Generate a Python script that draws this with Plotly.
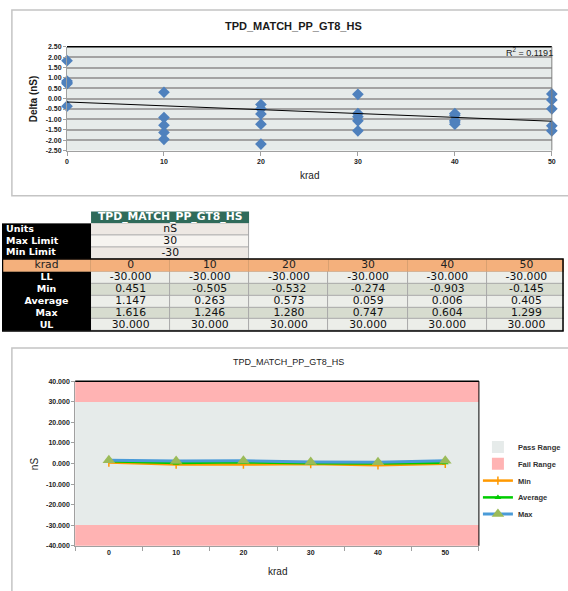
import plotly.graph_objects as go
import numpy as np

# ---------------- data ----------------
chart_title = "TPD_MATCH_PP_GT8_HS"
units = "nS"
max_limit = 30
min_limit = -30
r2_text = "R<sup>2</sup> = 0.1191"

delta_krad = [0] * 5 + [10] * 5 + [20] * 5 + [30] * 5 + [40] * 5 + [50] * 5
delta_ns = [1.83, 0.85, 0.78, 0.72, -0.36,
            0.31, -0.91, -1.28, -1.63, -1.96,
            -0.28, -0.49, -0.74, -1.23, -2.19,
            0.21, -0.72, -0.87, -1.07, -1.55,
            -0.72, -0.80, -1.05, -1.13, -1.23,
            0.23, -0.06, -0.49, -1.31, -1.55]
delta_ticks = [-2.5, -2.0, -1.5, -1.0, -0.5, 0.0, 0.5, 1.0, 1.5, 2.0, 2.5]

krad = [0, 10, 20, 30, 40, 50]
ll_vals = [-30.0, -30.0, -30.0, -30.0, -30.0, -30.0]
min_vals = [0.451, -0.505, -0.532, -0.274, -0.903, -0.145]
avg_vals = [1.147, 0.263, 0.573, 0.059, 0.006, 0.405]
max_vals = [1.616, 1.246, 1.280, 0.747, 0.604, 1.299]
ul_vals = [30.0, 30.0, 30.0, 30.0, 30.0, 30.0]
row_labels = ["LL", "Min", "Average", "Max", "UL"]
limit_labels = ["Units", "Max Limit", "Min Limit"]
limit_values = [units, str(max_limit), str(min_limit)]
ns_ticks = [-40, -30, -20, -10, 0, 10, 20, 30, 40]
axis_min, axis_max = -40, 40

# ---------------- helpers / style ----------------
W, H = 568, 591
def fx(p):
    return p / W
def fy(p):
    return 1 - p / H
def hy(v, d):
    return f"{v:.{d}f}"

BG = "#e6ebea"
PINK = "#ffb3b3"
TICKFONT = dict(family="Liberation Sans", size=7, color="#222222", weight="bold")
TFONT = "DejaVu Sans"

# table geometry (pixels on a helper axis)
T_TOP, T_BOT = 208, 334
HDR_A_TOP, HDR_A_H, ROW_A_H = 210, 12, 12
KRAD_H, ROW_B_H = 13, 12
LABEL_W, COL_W = 90, 80

fig = go.Figure()

# ---------------- top scatter chart ----------------
fig.add_trace(go.Scatter(
    x=delta_krad, y=delta_ns, mode="markers",
    marker=dict(symbol="diamond", size=9, color="#4f81bd"),
    xaxis="x", yaxis="y", cliponaxis=False, showlegend=False, name="Delta"))

slope, intercept = np.polyfit(delta_krad, delta_ns, 1)
tx = [min(krad), max(krad)]
ty = [intercept + slope * t for t in tx]
fig.add_trace(go.Scatter(
    x=tx, y=ty, mode="lines", line=dict(color="black", width=1),
    xaxis="x", yaxis="y", showlegend=False, name="Trend"))

# ---------------- bottom limit chart ----------------
cats = [str(k) for k in krad]
fig.add_trace(go.Bar(
    x=cats, y=[u - l for u, l in zip(ul_vals, ll_vals)], base=ll_vals, width=1,
    marker=dict(color=BG, line=dict(width=0)), name="Pass Range",
    xaxis="x2", yaxis="y2", legend="legend"))
fig.add_trace(go.Bar(
    x=cats, y=[l - axis_min for l in ll_vals], base=[axis_min] * len(cats), width=1,
    marker=dict(color=PINK, line=dict(width=0)), name="Fail Range",
    xaxis="x2", yaxis="y2", legend="legend2", showlegend=True))
fig.add_trace(go.Bar(
    x=cats, y=[axis_max - u for u in ul_vals], base=ul_vals, width=1,
    marker=dict(color=PINK, line=dict(width=0)), name="Fail Range",
    xaxis="x2", yaxis="y2", legend="legend2", showlegend=False))

fig.add_trace(go.Scatter(
    x=cats, y=min_vals, mode="lines+markers", name="Min",
    line=dict(color="#ff9900", width=2.5),
    marker=dict(symbol="line-ns-open", size=6, line=dict(color="#ff9900", width=1.5)),
    xaxis="x2", yaxis="y2", legend="legend3"))
fig.add_trace(go.Scatter(
    x=cats, y=avg_vals, mode="lines+markers", name="Average",
    line=dict(color="#00cc00", width=2.5),
    marker=dict(symbol="triangle-up", size=6, color="#00cc00"),
    xaxis="x2", yaxis="y2", legend="legend4"))
fig.add_trace(go.Scatter(
    x=cats, y=max_vals, mode="lines+markers", name="Max",
    line=dict(color="#4a9bd8", width=3),
    marker=dict(symbol="triangle-up", size=11, color="#9bbb59"),
    xaxis="x2", yaxis="y2", legend="legend5", cliponaxis=False))

# ---------------- table (heatmap cells + text) ----------------
def solid(c):
    return [[0, c], [1, c]]

def cells(xe, ye, z, scale, gap=0, zmax=1):
    fig.add_trace(go.Heatmap(
        x=xe, y=ye, z=z, colorscale=scale, zmin=0, zmax=zmax, showscale=False,
        xgap=gap, ygap=gap, hoverinfo="skip", xaxis="x3", yaxis="y3"))

def texts(xs, ys, tx_, color, size, pos="middle center", bold=False):
    fig.add_trace(go.Scatter(
        x=xs, y=ys, text=[("<b>%s</b>" % t) if bold else t for t in tx_],
        mode="text", textposition=pos, cliponaxis=False, hoverinfo="skip",
        textfont=dict(family=TFONT, size=size, color=color),
        showlegend=False, xaxis="x3", yaxis="y3"))

nA = len(limit_labels)
yA = [HDR_A_TOP + HDR_A_H + i * ROW_A_H for i in range(nA + 1)]
xA = [LABEL_W, LABEL_W + 2 * COL_W]
# header of block A
cells(xA, [HDR_A_TOP, HDR_A_TOP + HDR_A_H], [[0]], solid("#2f6b5a"))
texts([sum(xA) / 2], [HDR_A_TOP + HDR_A_H / 2], [chart_title], "white", 10.8, bold=True)
# labels of block A
cells([0, LABEL_W], yA, [[0]] * nA, solid("black"))
yA_c = [(yA[i] + yA[i + 1]) / 2 for i in range(nA)]
texts([4] * nA, yA_c, limit_labels, "white", 9.5, pos="middle right", bold=True)
# values of block A
cells(xA, yA, [[0]] * nA, solid("#a8a8a8"))
cells(xA, yA, [[i % 2] for i in range(nA)], [[0, "#ede8e3"], [1, "#f6f4f0"]], gap=1)
texts([sum(xA) / 2] * nA, yA_c, limit_values, "#111111", 10.8)

# block B
nc = len(krad)
xB = [0, LABEL_W] + [LABEL_W + (i + 1) * COL_W for i in range(nc)]
xB_c = [(xB[i] + xB[i + 1]) / 2 for i in range(nc + 1)]
y_k = yA[-1]
cells(xB, [y_k, y_k + KRAD_H], [[0] * (nc + 1)], solid("#d9a070"))
cells(xB, [y_k, y_k + KRAD_H], [[0] * (nc + 1)], solid("#f4b07c"), gap=1)
texts(xB_c, [y_k + KRAD_H / 2] * (nc + 1), ["krad"] + cats, "#222222", 10.8)

nr = len(row_labels)
yB = [y_k + KRAD_H + i * ROW_B_H for i in range(nr + 1)]
yB_c = [(yB[i] + yB[i + 1]) / 2 for i in range(nr)]
cells([0, LABEL_W], yB, [[0]] * nr, solid("black"))
texts([LABEL_W / 2] * nr, yB_c, row_labels, "white", 9.5, bold=True)
cells(xB[1:], yB, [[0] * nc for _ in range(nr)], solid("#a8a8a8"))
cells(xB[1:], yB, [[i % 2] * nc for i in range(nr)], [[0, "#eceee9"], [1, "#d7dccf"]], gap=1)
rows_data = [ll_vals, min_vals, avg_vals, max_vals, ul_vals]
vx, vy, vt = [], [], []
for r, vals in enumerate(rows_data):
    for c, v in enumerate(vals):
        vx.append(xB_c[c + 1]); vy.append(yB_c[r]); vt.append(hy(v, 3))
texts(vx, vy, vt, "#111111", 10.8)

# ---------------- layout ----------------
def leg(ycenter):
    return dict(x=fx(481), xanchor="left", y=fy(ycenter), yanchor="middle",
                bgcolor="rgba(0,0,0,0)", borderwidth=0, itemwidth=30,
                font=dict(family="Liberation Sans", size=7.5, color="#333333", weight="bold"))

def ann(text, x, y, size, angle=0, xanchor="center", bold=False):
    return dict(text=("<b>%s</b>" % text) if bold else text, x=fx(x), y=fy(y),
                xref="paper", yref="paper", xanchor=xanchor, yanchor="middle",
                textangle=angle, showarrow=False,
                font=dict(family="Liberation Sans", size=size, color="#1a1a1a"))

hidden = dict(visible=False, showgrid=False, zeroline=False, fixedrange=True)

fig.update_layout(
    width=W, height=H, margin=dict(l=0, r=0, t=0, b=0),
    paper_bgcolor="white", plot_bgcolor="white",
    barmode="overlay", bargap=0,
    xaxis=dict(domain=[fx(65.7), fx(555.7)], range=[0, 50], tickvals=krad,
               ticktext=[str(k) for k in krad], tickfont=TICKFONT,
               ticks="outside", ticklen=4, tickcolor="#a0a0a0",
               showgrid=False, zeroline=False, showline=True, linecolor="#a0a0a0",
               anchor="y"),
    yaxis=dict(domain=[fy(148.3), fy(43.3)], range=[-2.5, 2.5], tickvals=delta_ticks,
               ticktext=[hy(v, 2) for v in delta_ticks], tickfont=TICKFONT,
               ticks="outside", ticklen=3, tickcolor="#a0a0a0",
               showgrid=True, gridcolor="#a3a3a3", gridwidth=1.5, zeroline=False,
               showline=True, linecolor="#a0a0a0", anchor="x"),
    xaxis2=dict(domain=[fx(74), fx(482)], type="category", categoryorder="array",
                categoryarray=cats, range=[-0.5, len(cats) - 0.5], tickfont=TICKFONT,
                tickson="boundaries", ticks="outside", ticklen=4, tickcolor="#a0a0a0",
                showgrid=False, zeroline=False, showline=True, linecolor="#a0a0a0",
                anchor="y2"),
    yaxis2=dict(domain=[fy(548.3), fy(381.7)], range=[axis_min, axis_max], tickvals=ns_ticks,
                ticktext=[hy(v, 3) for v in ns_ticks], tickfont=TICKFONT,
                ticks="outside", ticklen=3, tickcolor="#a0a0a0",
                showgrid=False, zeroline=False, showline=True, linecolor="#a0a0a0",
                anchor="x2"),
    xaxis3=dict(domain=[0, 1], range=[0, W], anchor="y3", **hidden),
    yaxis3=dict(domain=[fy(T_BOT), fy(T_TOP)], range=[T_BOT, T_TOP], anchor="x3", **hidden),
    legend=leg(448.3), legend2=leg(465.3), legend3=leg(482.3),
    legend4=leg(499.3), legend5=leg(516),
    shapes=[
        dict(type="rect", xref="x domain", yref="y domain", x0=0, x1=1, y0=0, y1=1,
             fillcolor=BG, line=dict(width=0), layer="below"),
        dict(type="rect", xref="paper", yref="paper", x0=fx(10), x1=1.02, y0=fy(194), y1=fy(6),
             line=dict(color="#c4c4c4", width=1.5), layer="below"),
        dict(type="rect", xref="paper", yref="paper", x0=fx(10), x1=1.02, y0=-0.02, y1=fy(348),
             line=dict(color="#c4c4c4", width=1.5), layer="below"),
        dict(type="line", xref="x domain", yref="y domain", x0=0, x1=1, y0=1, y1=1,
             line=dict(color="black", width=1.5)),
        dict(type="line", xref="x domain", yref="y domain", x0=1, x1=1, y0=0, y1=1,
             line=dict(color="#808080", width=1)),
        dict(type="line", xref="x2 domain", yref="y2 domain", x0=0, x1=1, y0=1, y1=1,
             line=dict(color="black", width=1.5)),
        dict(type="line", xref="x2 domain", yref="y2 domain", x0=1, x1=1, y0=0, y1=1,
             line=dict(color="black", width=1)),
        dict(type="rect", xref="x3", yref="y3", x0=0.5, x1=W - 1, y0=yA[-1], y1=yB[-1],
             line=dict(color="black", width=1.5)),
    ],
    annotations=[
        ann(chart_title, 295, 22, 11, bold=True),
        ann(r2_text, 559, 49, 9, xanchor="right"),
        ann("krad", 310.7, 174, 10),
        ann("Delta (nS)", 32, 95.8, 10, angle=-90, bold=True),
        ann(chart_title, 290, 362.3, 9),
        ann("krad", 278, 574.3, 10),
        ann("nS", 33, 465, 10, angle=-90),
    ],
)

fig.write_html("out.html", config={"displayModeBar": False},
               post_script="document.body.style.margin='0px';")
